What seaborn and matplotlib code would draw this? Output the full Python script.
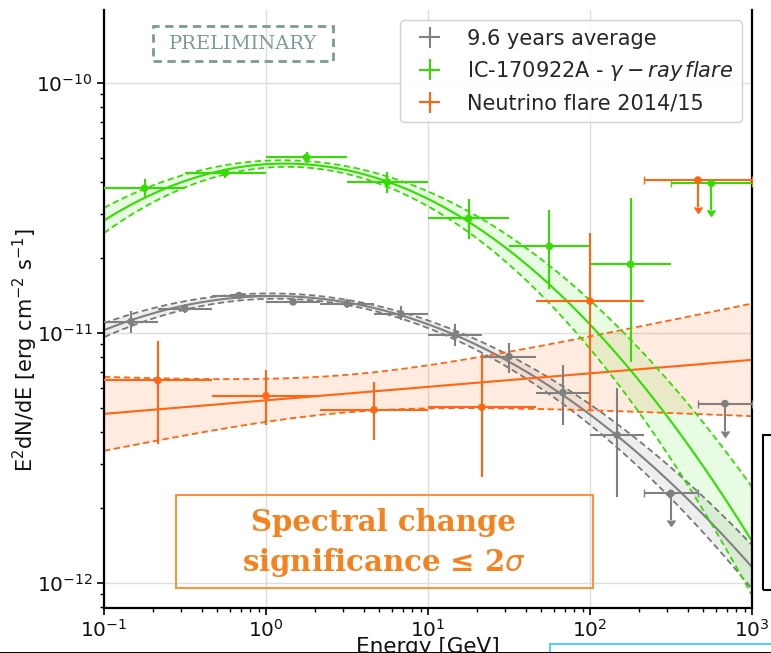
import numpy as np
import pandas as pd
import matplotlib
matplotlib.use("Agg")
import matplotlib.pyplot as plt
import seaborn as sns
from matplotlib.patches import Rectangle

# ---------------- data ----------------
# 9.6 years average (gray)
gray_e = [0.147, 0.316, 0.681, 1.47, 3.16, 6.81, 14.7, 31.6, 68.1, 147]
gray_emin = [0.1, 0.215, 0.464, 1.0, 2.15, 4.64, 10, 21.5, 46.4, 100]
gray_emax = [0.215, 0.464, 1.0, 2.15, 4.64, 10, 21.5, 46.4, 100, 215]
gray_flux = [1.11e-11, 1.25e-11, 1.41e-11, 1.33e-11, 1.31e-11, 1.19e-11, 0.98e-11, 8.04e-12, 5.77e-12, 3.9e-12]
gray_hi = [1.22e-11, 1.30e-11, 1.45e-11, 1.37e-11, 1.36e-11, 1.28e-11, 1.09e-11, 9.12e-12, 7.45e-12, 6.01e-12]
gray_lo = [1.00e-11, 1.20e-11, 1.37e-11, 1.29e-11, 1.26e-11, 1.13e-11, 8.87e-12, 6.92e-12, 4.29e-12, 2.21e-12]
gray_ul_e = [316, 681]
gray_ul_emin = [215, 464]
gray_ul_emax = [464, 1000]
gray_ul_flux = [2.28e-12, 5.21e-12]

# IC-170922A gamma-ray flare (green)
green_e = [0.178, 0.562, 1.78, 5.62, 17.8, 56.2, 178]
green_emin = [0.1, 0.316, 1.0, 3.16, 10, 31.6, 100]
green_emax = [0.316, 1.0, 3.16, 10, 31.6, 100, 316]
green_flux = [3.79e-11, 4.38e-11, 5.04e-11, 4.01e-11, 2.87e-11, 2.22e-11, 1.88e-11]
green_hi = [4.12e-11, 4.53e-11, 5.30e-11, 4.39e-11, 3.44e-11, 3.10e-11, 3.46e-11]
green_lo = [3.46e-11, 4.18e-11, 4.77e-11, 3.62e-11, 2.38e-11, 1.50e-11, 7.68e-12]
green_ul_e = [562]
green_ul_emin = [316]
green_ul_emax = [1000]
green_ul_flux = [3.97e-11]

# Neutrino flare 2014/15 (orange)
orange_e = [0.215, 1.0, 4.64, 21.5, 100]
orange_emin = [0.1, 0.464, 2.15, 10, 46.4]
orange_emax = [0.464, 2.15, 10, 46.4, 215]
orange_flux = [6.45e-12, 5.60e-12, 4.92e-12, 5.04e-12, 1.34e-11]
orange_hi = [9.32e-12, 7.11e-12, 6.38e-12, 8.24e-12, 2.51e-11]
orange_lo = [3.59e-12, 4.29e-12, 3.71e-12, 2.65e-12, 4.92e-12]
orange_ul_e = [464]
orange_ul_emin = [215]
orange_ul_emax = [1000]
orange_ul_flux = [4.09e-11]

# spectral model parameters: log10(E^2 dN/dE) = a + b*t + c*t^2, t = log10(E/GeV)
gray_model = [-10.853, 0.0118, -0.1244]      # a, b, c
green_model = [-10.325, 0.0432, -0.182]
orange_model = [-11.270, 0.054, 0.0]
# band half-widths (dex): [w0, k, t_pivot]
gray_band = [0.010, 0.0107, 0.3]       # w0 + k (t-tp)^2
green_band = [0.013, 0.026, 0.2]       # w0 + k (t-tp)^2
orange_band = [0.075, 0.085, 0.5]      # sqrt(w0^2 + (k (t-tp))^2)

labels = ["9.6 years average", r"IC-170922A - $\gamma-ray\,flare$", "Neutrino flare 2014/15"]

# ---------------- style ----------------
sns.set_theme(style="whitegrid")
plt.rcParams["font.family"] = ["DejaVu Sans"]
plt.rcParams["mathtext.fontset"] = "dejavusans"

gray_c = "#808080"
green_c = "#33dd00"
orange_c = "#ff6512"

W, H = 771, 653
fig = plt.figure(figsize=(W / 100, H / 100), dpi=100)
ax_l, ax_r, ax_t, ax_b = 104, 752, 10, 608
ax = fig.add_axes([ax_l / W, 1 - ax_b / H, (ax_r - ax_l) / W, (ax_b - ax_t) / H])
ax.set_xscale("log")
ax.set_yscale("log")

t = np.linspace(-1, 3, 300)
E = 10 ** t


def model(p, tt):
    return p[0] + p[1] * tt + p[2] * tt ** 2


curves = [
    (gray_model, gray_c, gray_band, "quad", 0.13, "#777777"),
    (orange_model, orange_c, orange_band, "hyp", 0.13, orange_c),
    (green_model, green_c, green_band, "quad", 0.11, green_c),
]
for p, col, bp, kind, alpha, dcol in curves:
    center = model(p, t)
    if kind == "quad":
        w = bp[0] + bp[1] * (t - bp[2]) ** 2
    else:
        w = np.sqrt(bp[0] ** 2 + (bp[1] * (t - bp[2])) ** 2)
    up = 10 ** (center + w)
    lo = 10 ** (center - w)
    ax.fill_between(E, lo, up, color=col, alpha=alpha, lw=0, zorder=1)
    df = pd.DataFrame({"E": E, "c": 10 ** center, "u": up, "l": lo})
    sns.lineplot(data=df, x="E", y="c", color=col, lw=1.5, ax=ax, zorder=2)
    sns.lineplot(data=df, x="E", y="u", color=dcol, lw=1.3, ls=(0, (3.5, 2)), ax=ax, zorder=2)
    sns.lineplot(data=df, x="E", y="l", color=dcol, lw=1.3, ls=(0, (3.5, 2)), ax=ax, zorder=2)

series = [
    (gray_e, gray_emin, gray_emax, gray_flux, gray_hi, gray_lo,
     gray_ul_e, gray_ul_emin, gray_ul_emax, gray_ul_flux, gray_c, labels[0]),
    (green_e, green_emin, green_emax, green_flux, green_hi, green_lo,
     green_ul_e, green_ul_emin, green_ul_emax, green_ul_flux, green_c, labels[1]),
    (orange_e, orange_emin, orange_emax, orange_flux, orange_hi, orange_lo,
     orange_ul_e, orange_ul_emin, orange_ul_emax, orange_ul_flux, orange_c, labels[2]),
]
handles = []
for (e, emin, emax, f, fhi, flo, ue, uemin, uemax, uf, col, lab) in series:
    e = np.array(e); f = np.array(f)
    xerr = [e - np.array(emin), np.array(emax) - e]
    yerr = [f - np.array(flo), np.array(fhi) - f]
    h = ax.errorbar(e, f, xerr=xerr, yerr=yerr, fmt="none", ecolor=col,
                    elinewidth=1.5, capsize=0, zorder=4, label=lab)
    handles.append(h)
    sns.scatterplot(x=e, y=f, color=col, s=30, edgecolor="none", ax=ax, zorder=5)
    ue = np.array(ue); uf = np.array(uf)
    uxerr = [ue - np.array(uemin), np.array(uemax) - ue]
    cont = ax.errorbar(ue, uf, xerr=uxerr, yerr=uf * 0.22, uplims=True, fmt="none",
                       ecolor=col, elinewidth=1.5, capsize=3, zorder=4)
    for cl in cont.lines[1]:
        cl.set_color(col)
        cl.set_markerfacecolor(col)
        cl.set_markeredgecolor(col)
    sns.scatterplot(x=ue, y=uf, color=col, s=30, edgecolor="none", ax=ax, zorder=5)

ax.set_xlim(0.1, 1000)
ax.set_ylim(10 ** -12.101, 10 ** -9.708)

for side in ["left", "bottom", "right"]:
    ax.spines[side].set_color("black")
    ax.spines[side].set_linewidth(1.6)
ax.spines["top"].set_visible(False)
ax.grid(True, which="major", color="#dddddd", lw=1.0)
ax.grid(False, which="minor")
ax.tick_params(which="both", direction="out", color="black", bottom=True, left=True,
               top=False, right=False)
ax.tick_params(which="major", length=5, width=1.2, labelsize=14.5, pad=3, labelcolor="#111111")
ax.tick_params(which="minor", length=3, width=1.0)

ax.set_xlabel("Energy [GeV]", fontsize=15.5, color="#111111")
ax.xaxis.set_label_coords(0.5, (ax_b - 637) / (ax_b - ax_t))
ax.set_ylabel(r"E$^2$dN/dE [erg cm$^{-2}$ s$^{-1}$]", fontsize=15, color="#111111")
ax.yaxis.set_label_coords((40 - ax_l) / (ax_r - ax_l), (ax_b - 350) / (ax_b - ax_t))

leg = ax.legend(handles=handles, loc="upper right", fontsize=15, frameon=True,
                fancybox=True, framealpha=0.9, edgecolor="#cccccc", borderaxespad=0.5)

# PRELIMINARY box
ax.add_patch(Rectangle((0.0756, 0.915), 0.2778, 0.058, transform=ax.transAxes, fill=False,
                       ec="#7a9a95", lw=2, ls=(0, (3, 2)), zorder=6))
ax.text(0.2145, 0.9435, "PRELIMINARY", transform=ax.transAxes, ha="center", va="center",
        fontsize=14, family="DejaVu Serif", color="#7a9a95", zorder=6)

# Spectral change box
ax.add_patch(Rectangle((0.111, 0.0334), 0.644, 0.156, transform=ax.transAxes, fill=False,
                       ec="#f7963f", lw=1.5, zorder=6))
ax.text(0.432, 0.108, "Spectral change\nsignificance \u2264 2$\\sigma$", transform=ax.transAxes,
        ha="center", va="center", fontsize=21, family="DejaVu Serif", fontweight="bold",
        color="#f5821f", linespacing=1.35, zorder=6)

# slide elements around the cropped chart
fig.patches.append(Rectangle((763 / W, 1 - 590 / H), 0.05, (590 - 435) / H, transform=fig.transFigure,
                             fill=False, ec="black", lw=1.5))
fig.patches.append(Rectangle((550 / W, -0.05), 0.5, 0.05 + (653 - 644) / H, transform=fig.transFigure,
                             fill=False, ec="#5cc8f5", lw=1.5))
fig.patches.append(Rectangle((0, 0), 1, 1.2 / H, transform=fig.transFigure, color="black", lw=0))

fig.savefig("out.png", dpi=100)
